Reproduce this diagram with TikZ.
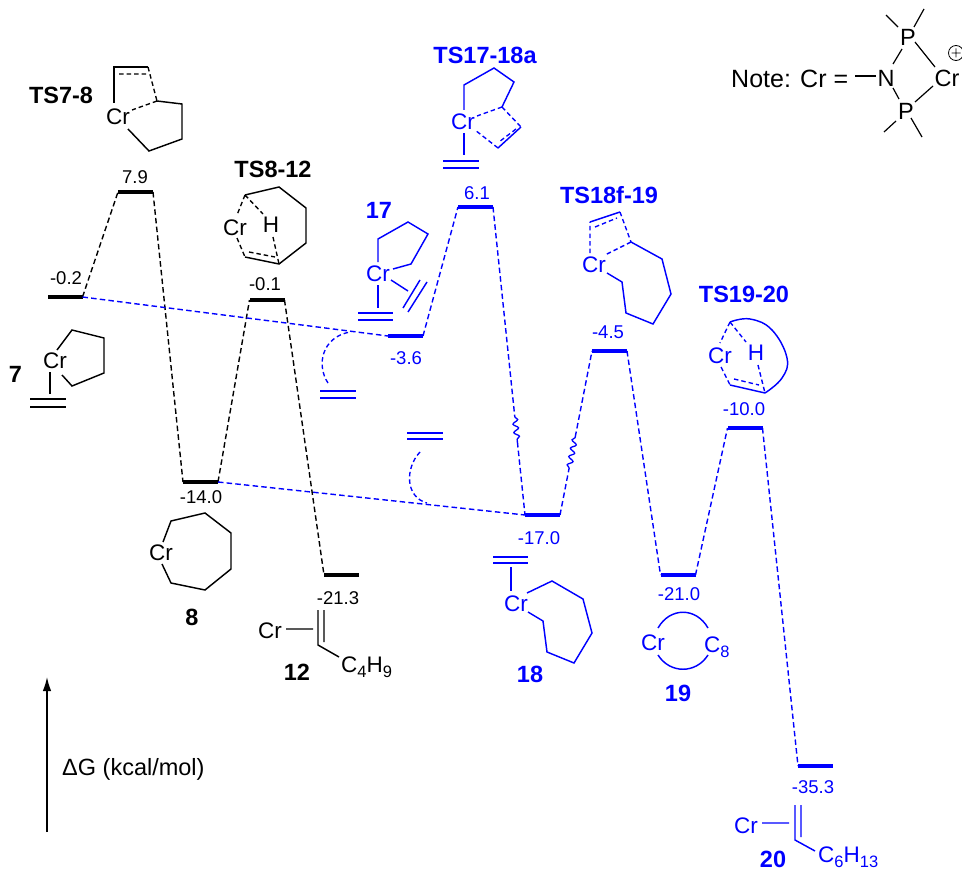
\documentclass[tikz,border=0pt]{standalone}
\usepackage{fontspec}
\setmainfont{Liberation Sans}
\usetikzlibrary{calc,decorations.pathmorphing,arrows.meta}
\newcommand{\lowered}[1]{\raisebox{-0.24em}{\fontsize{16.5}{18}\selectfont #1}}
\tikzset{
  bar/.style={draw=none,minimum width=35pt,minimum height=4.6pt,inner sep=0pt,outer sep=0pt},
  val/.style={inner sep=0pt,font=\fontsize{18.5}{20}\selectfont},
  ttl/.style={inner sep=0pt,font=\fontsize{23.5}{25}\selectfont\bfseries},
  atom/.style={inner sep=0pt,font=\fontsize{22.5}{24}\selectfont},
  natom/.style={inner sep=0pt,font=\fontsize{23.5}{25}\selectfont},
  note/.style={inner sep=0pt,font=\fontsize{25}{27}\selectfont},
  bond/.style={line width=1.45pt,line join=miter},
  dbond/.style={line width=1.35pt,dash pattern=on 4.5pt off 3pt},
  path/.style={line width=1.4pt,dash pattern=on 5.5pt off 3.2pt},
  wig/.style={line width=1.3pt,decorate,decoration={snake,segment length=8.5pt,amplitude=2.6pt}},
}
\begin{document}
\begin{tikzpicture}[x=1pt,y=-1pt]
\useasboundingbox (0,0) rectangle (962,872);
\fill[white] (0,0) rectangle (962,872);

% ---------- energy levels, black
\node[bar,fill=black] (b7)  at (65,297)    {};
\node[bar,fill=black] (b78) at (135.5,192) {};
\node[bar,fill=black] (b8)  at (200.5,482) {};
\node[bar,fill=black] (b812) at (267,300)  {};
\node[bar,fill=black] (b12) at (341.5,575) {};
% ---------- energy levels, blue
\node[bar,fill=blue] (b17)   at (405.5,336) {};
\node[bar,fill=blue] (b1718) at (475.5,207) {};
\node[bar,fill=blue] (b18)   at (542.5,515) {};
\node[bar,fill=blue] (b1819) at (609.5,351) {};
\node[bar,fill=blue] (b19)   at (678,575)   {};
\node[bar,fill=blue] (b1920) at (745,428)   {};
\node[bar,fill=blue] (b20)   at (815.5,766) {};

% ---------- connectors
\draw[path] (b7.east) -- (b78.west);
\draw[path] (b78.east) -- (b8.west);
\draw[path] (b8.east) -- (b812.west);
\draw[path] (b812.east) -- (b12.west);
\begin{scope}[blue]
\draw[path] (b7.east) -- (b17.west);
\draw[path] (b8.east) -- (b18.west);
\draw[path] (b17.east) -- (b1718.west);
\coordinate (wa) at ($(b1718.east)!0.682!(b18.west)$);
\coordinate (wb) at ($(b1718.east)!0.763!(b18.west)$);
\draw[path] (b1718.east) -- (wa);
\draw[wig] (wa) -- (wb);
\draw[path] (wb) -- (b18.west);
\coordinate (wc) at ($(b18.east)!0.287!(b1819.west)$);
\coordinate (wd) at ($(b18.east)!0.476!(b1819.west)$);
\draw[path] (b18.east) -- (wc);
\draw[wig] (wc) -- (wd);
\draw[path] (wd) -- (b1819.west);
\draw[path] (b1819.east) -- (b19.west);
\draw[path] (b19.east) -- (b1920.west);
\draw[path] (b1920.east) -- (b20.west);
% ethylene additions
\coordinate (ea) at (328,383); \coordinate (eb) at (350,332);
\coordinate (ec) at (420,452); \coordinate (ed) at (427,503);
\draw[dbond] (ea) .. controls (316,365) and (322,337) .. (eb);
\draw[dbond] (ec) .. controls (405,468) and (405,497) .. (ed);
\draw[bond] (320,391) -- (356,391) (320,398) -- (356,398);
\draw[bond] (407,433) -- (443,433) (407,439) -- (443,439);
\end{scope}

% ---------- values, black
\node[val] (v7)  at (66,278)  {-0.2};
\node[val] (v78) at (135,177) {7.9};
\node[val] (v812) at (265,284) {-0.1};
\node[val] (v8)  at (201,497) {-14.0};
\node[val] (v12) at (338,598) {-21.3};
% ---------- titles, black
\node[ttl] (t78) at (61,95)   {TS7-8};
\node[ttl] (t812) at (273,169) {TS8-12};
\node[ttl] (t7)  at (15.5,374) {7};
\node[ttl] (t8)  at (192,617) {8};
\node[ttl] (t12) at (297,672) {12};

% ---------- TS7-8
\node[atom] (cr78) at (118,117) {Cr};
\draw[bond] (114,103) -- (114,67) -- (148,67);
\draw[dbond] (148,67) -- (157,101) (119,74) -- (146,74) (157,101) -- (132,110);
\draw[bond] (157,101) -- (182,104) -- (182,139) -- (149,151) -- (128,129);
% ---------- TS8-12
\node[atom] (cr812) at (235,228) {Cr};
\node[atom] (h812) at (271,225) {H};
\draw[bond] (245,195) -- (279,187) -- (306,208) -- (306,243) -- (279,264) -- (245,257);
\draw[dbond] (245,195) -- (237,215) (245,195) -- (263,214) (273,237) -- (279,264) (237,238) -- (245,257) (249,252) -- (275,257);
% ---------- 7
\node[atom] (cr7) at (55,361) {Cr};
\draw[bond] (57,350) -- (72,330) -- (104,338) -- (104,373) -- (72,386) -- (62,375);
\draw[bond] (50,372) -- (50,394) (30,399) -- (66,399) (30,407) -- (66,407);
% ---------- 8
\node[atom] (cr8) at (161,553) {Cr};
\draw[bond] (163,542) -- (171,521) -- (205,513) -- (231,533) -- (231,569) -- (205,590) -- (171,583) -- (162,564);
% ---------- 12
\node[atom] (cr12) at (270,631) {Cr};
\draw[bond] (286,629) -- (313,629) (318,610) -- (318,645) -- (339,657) (324,610) -- (324,642);
\node[atom,anchor=base west] (c12) at (341,672) {C\lowered{4}H\lowered{9}};

% ---------- blue part
\begin{scope}[color=blue]
\node[val] (v17)  at (406,358) {-3.6};
\node[val] (v1718) at (477,193) {6.1};
\node[val] (v18)  at (539,538) {-17.0};
\node[val] (v1819) at (608,332) {-4.5};
\node[val] (v19)  at (679,594) {-21.0};
\node[val] (v1920) at (744,409) {-10.0};
\node[val] (v20)  at (813,787) {-35.3};
\node[ttl] (t17)  at (379,210) {17};
\node[ttl] (t1718) at (485,55) {TS17-18a};
\node[ttl] (t1819) at (609,195) {TS18f-19};
\node[ttl] (t1920) at (744,294) {TS19-20};
\node[ttl] (t18)  at (530,674) {18};
\node[ttl] (t19)  at (678,693) {19};
\node[ttl] (t20)  at (773,859.5) {20};
% TS17-18a
\node[atom] (cr1718) at (463,122) {Cr};
\draw[bond] (464,110) -- (464,85) -- (494,68) -- (514,82) -- (502,107);
\draw[dbond] (502,107) -- (477,116) (502,107) -- (521,127) (498,148) -- (475,130) (516,129) -- (499,142);
\draw[bond] (521,127) -- (498,148);
\draw[bond] (464,133) -- (464,155) (443,161) -- (479,161) (443,168) -- (479,168);
% 17
\node[atom] (cr17) at (378,274) {Cr};
\draw[bond] (378,262) -- (378,239) -- (408,222) -- (428,234) -- (411,264) -- (393,269);
\draw[bond] (391,280) -- (408,291) (427,282) -- (408,312) (420,280) -- (403,308);
\draw[bond] (378,285) -- (378,308) (358,313) -- (393,313) (358,320) -- (393,320);
% TS18f-19
\node[atom] (cr1819) at (594,265) {Cr};
\draw[dbond] (590,253) -- (590,222) (620,212) -- (631,242) (595,227) -- (617,218) (631,242) -- (605,255);
\draw[bond] (590,222) -- (620,212);
\draw[bond] (631,242) -- (662,259) -- (671,294) -- (653,324) -- (626,313) -- (622,282) -- (607,273);
% TS19-20
\node[atom] (cr1920) at (720,356) {Cr};
\node[atom] (h1920) at (756,353) {H};
\draw[bond] plot[smooth,tension=0.7] coordinates {(730,322) (750,319) (772,330) (787,358) (782,378) (765,393)};
\draw[bond] (730,385) -- (765,393);
\draw[dbond] (730,322) -- (720,343) (730,322) -- (746,342) (758,365) -- (765,393) (721,367) -- (730,385) (734,379) -- (759,385);
% 18
\node[atom] (cr18) at (516,604) {Cr};
\draw[bond] (493,557) -- (528,557) (493,563) -- (528,563) (511,567) -- (511,591);
\draw[bond] (527,593) -- (552,581) -- (583,599) -- (592,633) -- (574,663) -- (547,652) -- (543,621) -- (528,612);
% 19
\node[atom] (cr19) at (653,643) {Cr};
\node[atom,anchor=base west] (c19) at (704,652) {C\lowered{8}};
\draw[bond] (658,628) .. controls (670,607) and (696,607) .. (708,628);
\draw[bond] (658,655) .. controls (670,674) and (696,674) .. (708,655);
% 20
\node[atom] (cr20) at (746,826) {Cr};
\draw[bond] (762,823) -- (789,823) (795,805) -- (795,840) -- (815,851) (801,805) -- (801,837);
\node[atom,anchor=base west] (c20) at (818,862.5) {C\lowered{6}H\lowered{13}};
\end{scope}

% ---------- note
\node[note,anchor=base west] (nt) at (731,88) {Note: Cr =};
\node[natom] (nn) at (886,78) {N};
\node[natom] (pa) at (908,37) {P};
\node[natom] (pb) at (906,111) {P};
\node[natom] (crn) at (947,78) {Cr};
\draw[line width=1.2pt] (855,76) -- (876,76);
\draw[line width=1.2pt] (893,64) -- (902,49) (915,42) -- (935,67) (893,88) -- (899,99) (915,102) -- (933,86);
\draw[line width=1.2pt] (898,27) -- (886,15) (914,27) -- (924,9) (896,121) -- (884,132) (911,118) -- (922,137);
\draw[line width=0.8pt] (956,53) circle (7.5) (951.5,53) -- (960.5,53) (956,48.5) -- (956,57.5);

% ---------- axis
\coordinate (ax0) at (47,832);
\coordinate (ax1) at (47,677);
\draw[line width=1.5pt,-{Latex[length=14pt,width=8.5pt]}] (ax0) -- (ax1);
\node[note,anchor=base west,font=\fontsize{23.5}{25}\selectfont] (dg) at (62,775) {ΔG (kcal/mol)};
\end{tikzpicture}
\end{document}
